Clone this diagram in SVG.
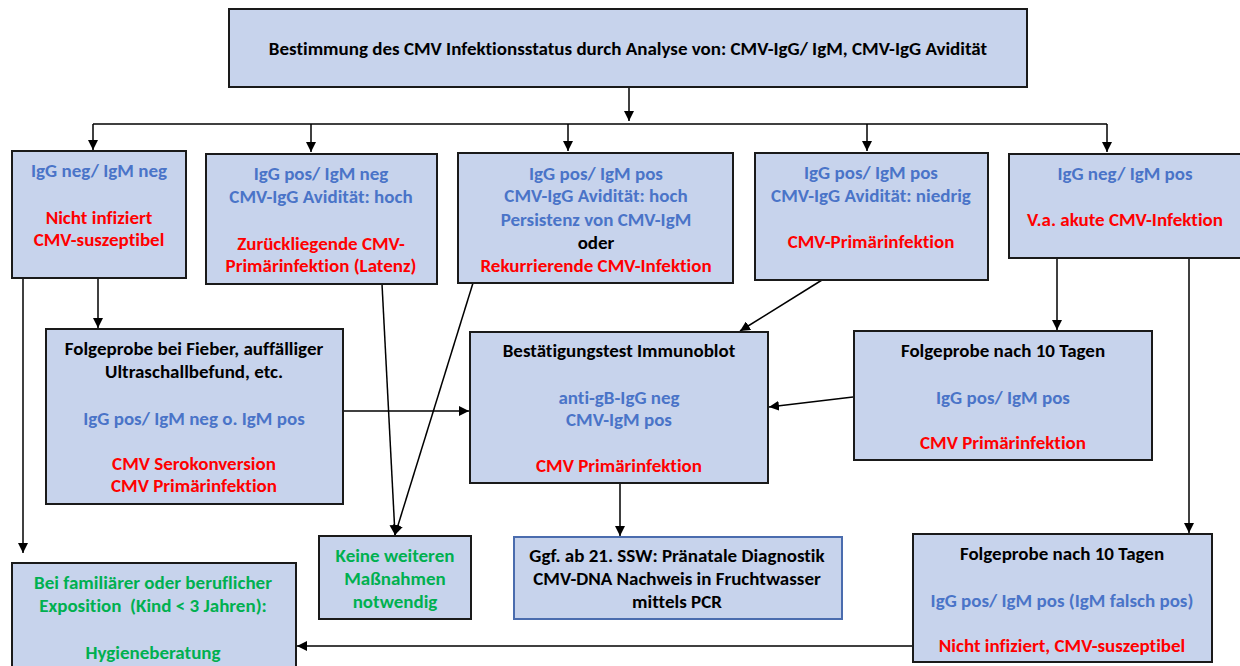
<svg xmlns="http://www.w3.org/2000/svg" width="1240" height="666" viewBox="0 0 1240 666">
<defs>
<marker id="ah" viewBox="0 0 10 10" refX="10" refY="5" markerWidth="10" markerHeight="10" markerUnits="userSpaceOnUse" orient="auto">
<path d="M0,0 L10,5 L0,10 z" fill="#000"/>
</marker>
</defs>
<style>
.box{fill:#C7D3EC;stroke:#1a1a1a;stroke-width:2}
.boxb{fill:#C7D3EC;stroke:#4A6CAE;stroke-width:2}
text{font-family:Carlito,Lato,"Liberation Sans",sans-serif;font-weight:bold;font-size:19px;text-anchor:middle;dominant-baseline:central;font-variant-ligatures:none}
.k{fill:#000}
.b{fill:#4A74C8}
.r{fill:#FF0000}
.g{fill:#00B050}
.c{fill:none;stroke:#000;stroke-width:1.5}
</style>
<rect width="1240" height="666" fill="#fff"/>
<g id="connectors">
<path class="c" d="M629,87 V121" marker-end="url(#ah)"/>
<path class="c" d="M93,124 H1107"/>
<path class="c" d="M93,124 V150" marker-end="url(#ah)"/>
<path class="c" d="M311,124 V152" marker-end="url(#ah)"/>
<path class="c" d="M568,124 V151" marker-end="url(#ah)"/>
<path class="c" d="M867,124 V151" marker-end="url(#ah)"/>
<path class="c" d="M1107,124 V152" marker-end="url(#ah)"/>
<path class="c" d="M23,278 V553" marker-end="url(#ah)"/>
<path class="c" d="M98,278 V328" marker-end="url(#ah)"/>
<path class="c" d="M382,284 L395,535" marker-end="url(#ah)"/>
<path class="c" d="M473,283 L395,535" marker-end="url(#ah)"/>
<path class="c" d="M822,280 L740,331" marker-end="url(#ah)"/>
<path class="c" d="M1057,258 V330" marker-end="url(#ah)"/>
<path class="c" d="M1189,258 V533" marker-end="url(#ah)"/>
<path class="c" d="M343,411 H469" marker-end="url(#ah)"/>
<path class="c" d="M853,397 L769,407" marker-end="url(#ah)"/>
<path class="c" d="M620,483 V536" marker-end="url(#ah)"/>
<path class="c" d="M913,646 H297" marker-end="url(#ah)"/>
</g>
<g id="top">
<rect class="box" x="229" y="9" width="798" height="78"/>
<text class="k" x="628" y="48">Bestimmung des CMV Infektionsstatus durch Analyse von: CMV-IgG/ IgM, CMV-IgG Avidität</text>
</g>
<g id="n1">
<rect class="box" x="12" y="151" width="174" height="127"/>
<text class="b" x="99" y="170">IgG neg/ IgM neg</text>
<text class="r" x="99" y="217">Nicht infiziert</text>
<text class="r" x="99" y="239">CMV-suszeptibel</text>
</g>
<g id="n2">
<rect class="box" x="206" y="154" width="231" height="130"/>
<text class="b" x="321" y="173">IgG pos/ IgM neg</text>
<text class="b" x="321" y="196">CMV-IgG Avidität: hoch</text>
<text class="r" x="321" y="243">Zurückliegende CMV-</text>
<text class="r" x="321" y="265">Primärinfektion (Latenz)</text>
</g>
<g id="n3">
<rect class="box" x="458" y="153" width="275" height="130"/>
<text class="b" x="596" y="173">IgG pos/ IgM pos</text>
<text class="b" x="596" y="195">CMV-IgG Avidität: hoch</text>
<text class="b" x="596" y="219">Persistenz von CMV-IgM</text>
<text class="k" x="596" y="242">oder</text>
<text class="r" x="596" y="265">Rekurrierende CMV-Infektion</text>
</g>
<g id="n4">
<rect class="box" x="755" y="153" width="233" height="127"/>
<text class="b" x="871" y="172">IgG pos/ IgM pos</text>
<text class="b" x="871" y="195">CMV-IgG Avidität: niedrig</text>
<text class="r" x="871" y="241">CMV-Primärinfektion</text>
</g>
<g id="n5">
<rect class="box" x="1009" y="154" width="240" height="104"/>
<text class="b" x="1125" y="173">IgG neg/ IgM pos</text>
<text class="r" x="1125" y="219">V.a. akute CMV-Infektion</text>
</g>
<g id="folge1">
<rect class="box" x="46" y="329" width="297" height="175"/>
<text class="k" x="194" y="348">Folgeprobe bei Fieber, auffälliger</text>
<text class="k" x="194" y="371">Ultraschallbefund, etc.</text>
<text class="b" x="194" y="418">IgG pos/ IgM neg o. IgM pos</text>
<text class="r" x="194" y="463">CMV Serokonversion</text>
<text class="r" x="194" y="485">CMV Primärinfektion</text>
</g>
<g id="immunoblot">
<rect class="box" x="470" y="332" width="298" height="151"/>
<text class="k" x="619" y="350">Bestätigungstest Immunoblot</text>
<text class="b" x="619" y="397">anti-gB-IgG neg</text>
<text class="b" x="619" y="419">CMV-IgM pos</text>
<text class="r" x="619" y="465">CMV Primärinfektion</text>
</g>
<g id="folge2">
<rect class="box" x="854" y="331" width="298" height="129"/>
<text class="k" x="1003" y="350">Folgeprobe nach 10 Tagen</text>
<text class="b" x="1003" y="397">IgG pos/ IgM pos</text>
<text class="r" x="1003" y="442">CMV Primärinfektion</text>
</g>
<g id="keine">
<rect class="box" x="319" y="536" width="152" height="83"/>
<text class="g" x="395" y="555">Keine weiteren</text>
<text class="g" x="395" y="578">Maßnahmen</text>
<text class="g" x="395" y="601">notwendig</text>
</g>
<g id="pcr">
<rect class="boxb" x="514" y="537" width="328" height="82"/>
<text class="k" x="677" y="555">Ggf. ab 21. SSW: Pränatale Diagnostik</text>
<text class="k" x="677" y="578">CMV-DNA Nachweis in Fruchtwasser</text>
<text class="k" x="677" y="601">mittels PCR</text>
</g>
<g id="hygiene">
<rect class="box" x="12" y="563" width="284" height="120"/>
<text class="g" x="153" y="582">Bei familiärer oder beruflicher</text>
<text class="g" x="153" y="605" xml:space="preserve">Exposition  (Kind &lt; 3 Jahren):</text>
<text class="g" x="153" y="652">Hygieneberatung</text>
</g>
<g id="folge3">
<rect class="box" x="913" y="534" width="299" height="128"/>
<text class="k" x="1062" y="553">Folgeprobe nach 10 Tagen</text>
<text class="b" x="1062" y="600">IgG pos/ IgM pos (IgM falsch pos)</text>
<text class="r" x="1062" y="645">Nicht infiziert, CMV-suszeptibel</text>
</g>
</svg>
